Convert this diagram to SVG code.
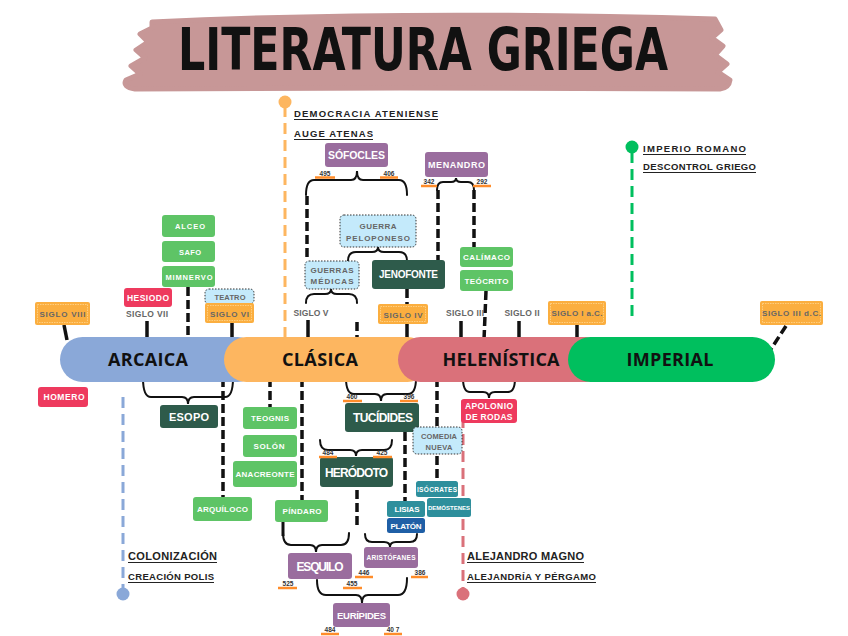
<svg xmlns="http://www.w3.org/2000/svg" width="848" height="636" viewBox="0 0 848 636">
<style>
text{font-family:"Liberation Sans",Arial,sans-serif;font-weight:bold;text-anchor:middle}
.w{fill:#fff}
.g{fill:#666}
.n{font-size:6.5px;fill:#333}
.u{text-anchor:start;fill:#222}
.big{font-family:"Open Sans","Liberation Sans",sans-serif;font-size:18px;fill:#111}
.dash{stroke:#111;stroke-width:3.5;stroke-dasharray:9,4;fill:none}
.sol{stroke:#111;stroke-width:3.5;fill:none}
.br{stroke:#111;stroke-width:2;fill:none;stroke-linecap:round}
.ol{stroke:#FF8C2A;stroke-width:2.5}
.ul{stroke:#222;stroke-width:1}
.sg{fill:#FBAE3F}
.sgi{fill:none;stroke:#FFD58F;stroke-width:0.8;stroke-dasharray:1.5,1}
.lb{fill:#C4EAFB;stroke:#333;stroke-width:1;stroke-dasharray:1.5,1.5}
.gr{fill:#5EC466}
.dg{fill:#2E5B4B}
.pu{fill:#9A6D9E}
.rd{fill:#EE3A5E}
.te{fill:#2E8F9C}
.bl{fill:#1F5FA6}
</style>

<g id="title">
<path d="M152,22 Q400,10 715,19 L721,30 L712,38 L723,46 L715,55 L727,64 L718,72 L730,80 Q729,88 720,89 L400,88 L135,89 Q122,87 126,80 L140,74 L131,66 L145,58 L136,50 L148,42 L140,34 L152,28 Z" fill="#C79797" stroke="#C79797" stroke-width="5" stroke-linejoin="round"/>
<text x="423" y="70" style="font-family:'DejaVu Sans Condensed','DejaVu Sans',sans-serif;font-size:59px;fill:#111;font-stretch:condensed" textLength="490" lengthAdjust="spacingAndGlyphs">LITERATURA GRIEGA</text>
</g>

<g id="connectors">
<line class="sol" x1="64" y1="325" x2="67" y2="340"/>
<line class="sol" x1="147" y1="321" x2="147" y2="340"/>
<line class="dash" x1="188" y1="287" x2="188" y2="340"/>
<line class="sol" x1="232" y1="323" x2="232" y2="340"/>
<line class="sol" x1="308" y1="320" x2="308" y2="340"/>
<line class="dash" x1="357" y1="322" x2="357" y2="340"/>
<line class="dash" x1="307" y1="196" x2="307" y2="261"/>
<line class="dash" x1="407" y1="289" x2="407" y2="304"/>
<line class="sol" x1="407" y1="324" x2="407" y2="340"/>
<line class="dash" x1="438" y1="190" x2="438" y2="260"/>
<line class="dash" x1="474" y1="190" x2="474" y2="247"/>
<line class="dash" x1="486" y1="291" x2="484" y2="340"/>
<line class="sol" x1="461" y1="321" x2="461" y2="340"/>
<line class="sol" x1="519" y1="321" x2="519" y2="340"/>
<line class="sol" x1="577" y1="325" x2="577" y2="340"/>
<line class="dash" x1="786" y1="326" x2="771" y2="349"/>
<line class="dash" x1="223" y1="378" x2="223" y2="497"/>
<line class="dash" x1="270" y1="378" x2="270" y2="407"/>
<line class="dash" x1="302" y1="378" x2="302" y2="500"/>
<line class="dash" x1="405" y1="432" x2="405" y2="501"/>
<line class="dash" x1="437" y1="378" x2="437" y2="481"/>
<line class="dash" x1="357" y1="490" x2="357" y2="527"/>
<line class="sol" x1="283" y1="522" x2="283" y2="536" style="stroke-width:3"/>
<path class="br" d="M306,195 Q306,180 314,180 L351,180 Q357,180 357,171 Q357,180 363,180 L399,180 Q407,180 407,195"/>
<path class="br" d="M348,261 Q348,252 356,252 L372,252 Q378,252 378,247 Q378,252 384,252 L399,252 Q407,252 407,261"/>
<path class="br" d="M306,303 Q306,294 314,294 L325,294 Q331,294 331,289 Q331,294 337,294 L349,294 Q357,294 357,303"/>
<path class="br" d="M437,190 Q437,182 443,182 L451,182 Q456,182 456,178 Q456,182 461,182 L468,182 Q474,182 474,190"/>
<path class="br" d="M143,378 Q143,397 151,397 L182,397 Q188,397 188,404 Q188,397 194,397 L225,397 Q233,397 233,378"/>
<path class="br" d="M346,378 Q346,394 354,394 L375,394 Q381,394 381,401 Q381,394 387,394 L408,394 Q416,394 416,378"/>
<path class="br" d="M320,440 Q320,450 328,450 L350,450 Q356,450 356,456 Q356,450 362,450 L384,450 Q392,450 392,440"/>
<path class="br" d="M283,533 Q283,545 291,545 L310,545 Q316,545 316,552 Q316,545 322,545 L341,545 Q349,545 349,533"/>
<path class="br" d="M365,534 Q365,542 372,542 L384,542 Q390,542 390,547 Q390,542 396,542 L410,542 Q417,542 417,534"/>
<path class="br" d="M317,580 Q317,595 326,595 L356,595 Q362,595 362,603 Q362,595 368,595 L398,595 Q407,595 407,578"/>
<path class="br" d="M463,378 Q463,392 470,392 L483,392 Q489,392 489,398 Q489,392 495,392 L508,392 Q515,392 515,378"/>
</g>

<g id="timeline-lines">
<line x1="285" y1="106" x2="285" y2="338" stroke="#FDB660" stroke-width="3" stroke-dasharray="11,6"/>
<circle cx="285" cy="102" r="6.5" fill="#FDB660"/>
<line x1="632" y1="152" x2="632" y2="322" stroke="#00BF5E" stroke-width="3" stroke-dasharray="11,6"/>
<circle cx="632" cy="147" r="6.5" fill="#00BF5E"/>
<line x1="123" y1="397" x2="123" y2="590" stroke="#8AA8D8" stroke-width="3" stroke-dasharray="11,6"/>
<circle cx="123" cy="594" r="6.5" fill="#8AA8D8"/>
<line x1="463" y1="400" x2="463" y2="590" stroke="#DA717A" stroke-width="3" stroke-dasharray="11,6"/>
<circle cx="463" cy="594" r="6.5" fill="#DA717A"/>
</g>

<g id="arcaica"><rect x="60" y="337" width="200" height="45" rx="22.5" fill="#8AA8D8"/><text class="big" x="148" y="366" textLength="80">ARCAICA</text></g>
<g id="clasica"><rect x="224" y="337" width="206" height="45" rx="22.5" fill="#FDB660"/><text class="big" x="320" y="366" textLength="76">CLÁSICA</text></g>
<g id="helenistica"><rect x="398" y="337" width="210" height="45" rx="22.5" fill="#DA717A"/><text class="big" x="501" y="366" textLength="117">HELENÍSTICA</text></g>
<g id="imperial"><rect x="568" y="337" width="207" height="45" rx="22.5" fill="#00BF5E"/><text class="big" x="670" y="366" textLength="87">IMPERIAL</text></g>

<g id="siglo-viii"><rect class="sg" x="35" y="302" width="55" height="23" rx="2"/><rect class="sgi" x="37.5" y="304.5" width="50" height="18"/><text class="g" x="62.5" y="316.5" font-size="8" textLength="46">SIGLO VIII</text></g>
<g id="siglo-vii"><text class="g" x="147" y="317" font-size="8.5" textLength="42">SIGLO VII</text></g>
<g id="teatro"><rect class="lb" x="205" y="289" width="49" height="15" rx="4"/><text class="g" x="230" y="299.5" font-size="7.5" textLength="31">TEATRO</text></g>
<g id="siglo-vi"><rect class="sg" x="205" y="303" width="49" height="20" rx="2"/><rect class="sgi" x="207.5" y="305.5" width="44" height="15"/><text class="g" x="229.5" y="316.5" font-size="8" textLength="39">SIGLO VI</text></g>
<g id="siglo-v"><text class="g" x="311" y="316" font-size="8.5" textLength="35">SIGLO V</text></g>
<g id="siglo-iv"><rect class="sg" x="378" y="304" width="50" height="20" rx="2"/><rect class="sgi" x="380.5" y="306.5" width="45" height="15"/><text class="g" x="403" y="317.5" font-size="8" textLength="39">SIGLO IV</text></g>
<g id="siglo-iii"><text class="g" x="465" y="316" font-size="8.5" textLength="38">SIGLO III</text></g>
<g id="siglo-ii"><text class="g" x="522" y="316" font-size="8.5" textLength="35">SIGLO II</text></g>
<g id="siglo-i-ac"><rect class="sg" x="548" y="301" width="58" height="24" rx="2"/><rect class="sgi" x="550.5" y="303.5" width="53" height="19"/><text class="g" x="577" y="316" font-size="8" textLength="51">SIGLO I a.C.</text></g>
<g id="siglo-iii-dc"><rect class="sg" x="760" y="301" width="63" height="24" rx="2"/><rect class="sgi" x="762.5" y="303.5" width="58" height="19"/><text class="g" x="791.5" y="316" font-size="8" textLength="59">SIGLO III d.C.</text></g>

<g id="hesiodo"><rect class="rd" x="124" y="288" width="48" height="19" rx="3"/><text class="w" x="148" y="300.5" font-size="8.5" textLength="42">HESIODO</text></g>
<g id="alceo"><rect class="gr" x="162" y="215" width="53" height="22" rx="3"/><text class="w" x="190" y="229" font-size="7.5" textLength="30">ALCEO</text></g>
<g id="safo"><rect class="gr" x="162" y="241" width="53" height="21" rx="3"/><text class="w" x="190" y="254.5" font-size="7.5" textLength="22">SAFO</text></g>
<g id="mimnervo"><rect class="gr" x="162" y="266" width="53" height="21" rx="3"/><text class="w" x="189" y="279.5" font-size="7.5" textLength="47">MIMNERVO</text></g>

<g id="sofocles"><rect class="pu" x="325" y="143" width="63" height="24" rx="3"/><text class="w" x="356.5" y="158.5" font-size="10.5" textLength="57">SÓFOCLES</text></g>
<g id="n495"><line class="ol" x1="315" y1="177.5" x2="335" y2="177.5"/><text class="n" x="325" y="175.5">495</text></g>
<g id="n406"><line class="ol" x1="380" y1="177.5" x2="398" y2="177.5"/><text class="n" x="389" y="175.5">406</text></g>
<g id="menandro"><rect class="pu" x="425" y="152" width="63" height="25" rx="3"/><text class="w" x="456.5" y="168" font-size="9" textLength="57">MENANDRO</text></g>
<g id="n342"><line class="ol" x1="421" y1="186" x2="437" y2="186"/><text class="n" x="429" y="184">342</text></g>
<g id="n292"><line class="ol" x1="473" y1="186" x2="491" y2="186"/><text class="n" x="482" y="184">292</text></g>
<g id="guerra-peloponeso"><rect class="lb" x="340" y="215" width="76" height="32" rx="4"/><text class="g" x="378" y="228.5" font-size="8" textLength="37">GUERRA</text><text class="g" x="378" y="240.5" font-size="8" textLength="64">PELOPONESO</text></g>
<g id="guerras-medicas"><rect class="lb" x="305" y="261" width="54" height="28" rx="4"/><text class="g" x="332" y="272.5" font-size="8" textLength="43">GUERRAS</text><text class="g" x="332" y="284" font-size="8" textLength="43">MÉDICAS</text></g>
<g id="jenofonte"><rect class="dg" x="372" y="260" width="73" height="29" rx="3"/><text class="w" x="408.5" y="278" font-size="10" textLength="59">JENOFONTE</text></g>
<g id="calimaco"><rect class="gr" x="460" y="247" width="53" height="20" rx="3"/><text class="w" x="486.5" y="260" font-size="8" textLength="47">CALÍMACO</text></g>
<g id="teocrito"><rect class="gr" x="460" y="270" width="53" height="21" rx="3"/><text class="w" x="486.5" y="283.5" font-size="8" textLength="44">TEÓCRITO</text></g>

<g id="homero"><rect class="rd" x="38" y="387" width="50" height="20" rx="3"/><text class="w" x="64" y="400" font-size="8.5" textLength="41">HOMERO</text></g>
<g id="esopo"><rect class="dg" x="160" y="405" width="58" height="23" rx="3"/><text class="w" x="189" y="420.5" font-size="11" textLength="40">ESOPO</text></g>
<g id="arquiloco"><rect class="gr" x="193" y="497" width="59" height="24" rx="3"/><text class="w" x="222.5" y="512" font-size="8" textLength="51">ARQUÍLOCO</text></g>
<g id="teognis"><rect class="gr" x="243" y="407" width="54" height="22" rx="3"/><text class="w" x="270" y="421" font-size="8" textLength="38">TEOGNIS</text></g>
<g id="solon"><rect class="gr" x="243" y="435" width="54" height="22" rx="3"/><text class="w" x="269" y="449" font-size="8" textLength="31">SOLÓN</text></g>
<g id="anacreonte"><rect class="gr" x="233" y="461" width="64" height="26" rx="3"/><text class="w" x="265" y="477" font-size="8" textLength="59">ANACREONTE</text></g>
<g id="pindaro"><rect class="gr" x="275" y="500" width="53" height="22" rx="3"/><text class="w" x="302" y="514" font-size="8" textLength="39">PÍNDARO</text></g>
<g id="esquilo"><rect class="pu" x="288" y="553" width="64" height="26" rx="3"/><text class="w" x="320" y="570.5" font-size="12" textLength="47">ESQUILO</text></g>
<g id="n525"><line class="ol" x1="278" y1="588" x2="297" y2="588"/><text class="n" x="288" y="586">525</text></g>
<g id="n455"><line class="ol" x1="343" y1="588" x2="362" y2="588"/><text class="n" x="352" y="586">455</text></g>
<g id="euripides"><rect class="pu" x="333" y="603" width="57" height="24" rx="3"/><text class="w" x="361.5" y="618.5" font-size="9.5" textLength="49">EURÍPIDES</text></g>
<g id="n484b"><line class="ol" x1="321" y1="634" x2="339" y2="634"/><text class="n" x="330" y="632">484</text></g>
<g id="n407"><line class="ol" x1="384" y1="634" x2="402" y2="634"/><text class="n" x="393" y="632">40 7</text></g>
<g id="tucidides"><rect class="dg" x="345" y="403" width="74" height="29" rx="3"/><text class="w" x="383" y="422" font-size="12" textLength="60">TUCÍDIDES</text></g>
<g id="n460"><line class="ol" x1="343" y1="401" x2="362" y2="401"/><text class="n" x="352" y="399">460</text></g>
<g id="n396"><line class="ol" x1="400" y1="401" x2="418" y2="401"/><text class="n" x="409" y="399">396</text></g>
<g id="herodoto"><rect class="dg" x="320" y="457" width="73" height="30" rx="3"/><text class="w" x="356.5" y="476.5" font-size="12" textLength="63">HERÓDOTO</text></g>
<g id="n484a"><line class="ol" x1="319" y1="457" x2="337" y2="457"/><text class="n" x="328" y="455">484</text></g>
<g id="n425"><line class="ol" x1="373" y1="457" x2="392" y2="457"/><text class="n" x="382" y="455">425</text></g>
<g id="lisias"><rect class="te" x="387" y="501" width="38" height="16" rx="2.5"/><text class="w" x="407" y="512" font-size="8" textLength="25">LISIAS</text></g>
<g id="platon"><rect class="bl" x="387" y="518" width="38" height="15" rx="2.5"/><text class="w" x="406" y="528.5" font-size="8" textLength="31">PLATÓN</text></g>
<g id="aristofanes"><rect class="pu" x="364" y="547" width="54" height="21" rx="3"/><text class="w" x="391" y="560" font-size="6.5" textLength="49">ARISTÓFANES</text></g>
<g id="n446"><line class="ol" x1="355" y1="577" x2="373" y2="577"/><text class="n" x="364" y="575">446</text></g>
<g id="n386"><line class="ol" x1="411" y1="577" x2="428" y2="577"/><text class="n" x="420" y="575">386</text></g>
<g id="comedia-nueva"><rect class="lb" x="413" y="427" width="49" height="27" rx="4"/><text class="g" x="439" y="439" font-size="7.5" textLength="36">COMEDIA</text><text class="g" x="439" y="449.5" font-size="7.5" textLength="27">NUEVA</text></g>
<g id="isocrates"><rect class="te" x="416" y="481" width="42" height="16" rx="2.5"/><text class="w" x="437" y="491.5" font-size="6.5" textLength="40">ISÓCRATES</text></g>
<g id="demostenes"><rect class="te" x="427" y="498" width="44" height="19" rx="2.5"/><text class="w" x="449" y="510" font-size="6" textLength="42">DEMÓSTENES</text></g>
<g id="apolonio"><rect class="rd" x="461" y="399" width="56" height="24" rx="3"/><text class="w" x="489" y="409" font-size="8.5" textLength="48">APOLONIO</text><text class="w" x="489" y="419.5" font-size="8.5" textLength="47">DE RODAS</text></g>

<g id="notes">
<text class="u" x="294" y="117" font-size="9.5" textLength="144">DEMOCRACIA ATENIENSE</text><line class="ul" x1="294" y1="119.5" x2="438" y2="119.5"/>
<text class="u" x="294" y="137" font-size="9.5" textLength="79">AUGE ATENAS</text><line class="ul" x1="294" y1="139.5" x2="373" y2="139.5"/>
<text class="u" x="643" y="152" font-size="9.5" textLength="103">IMPERIO ROMANO</text><line class="ul" x1="643" y1="154.5" x2="746" y2="154.5"/>
<text class="u" x="643" y="170" font-size="9.5" textLength="113">DESCONTROL GRIEGO</text><line class="ul" x1="643" y1="172.5" x2="756" y2="172.5"/>
<text class="u" x="128" y="560" font-size="11" textLength="89">COLONIZACIÓN</text><line class="ul" x1="128" y1="562.5" x2="217" y2="562.5"/>
<text class="u" x="128" y="580" font-size="9.5" textLength="86">CREACIÓN POLIS</text><line class="ul" x1="128" y1="582.5" x2="214" y2="582.5"/>
<text class="u" x="467" y="560" font-size="11" textLength="117">ALEJANDRO MAGNO</text><line class="ul" x1="467" y1="562.5" x2="584" y2="562.5"/>
<text class="u" x="467" y="580" font-size="9.5" textLength="129">ALEJANDRÍA Y PÉRGAMO</text><line class="ul" x1="467" y1="582.5" x2="596" y2="582.5"/>
</g>
</svg>
